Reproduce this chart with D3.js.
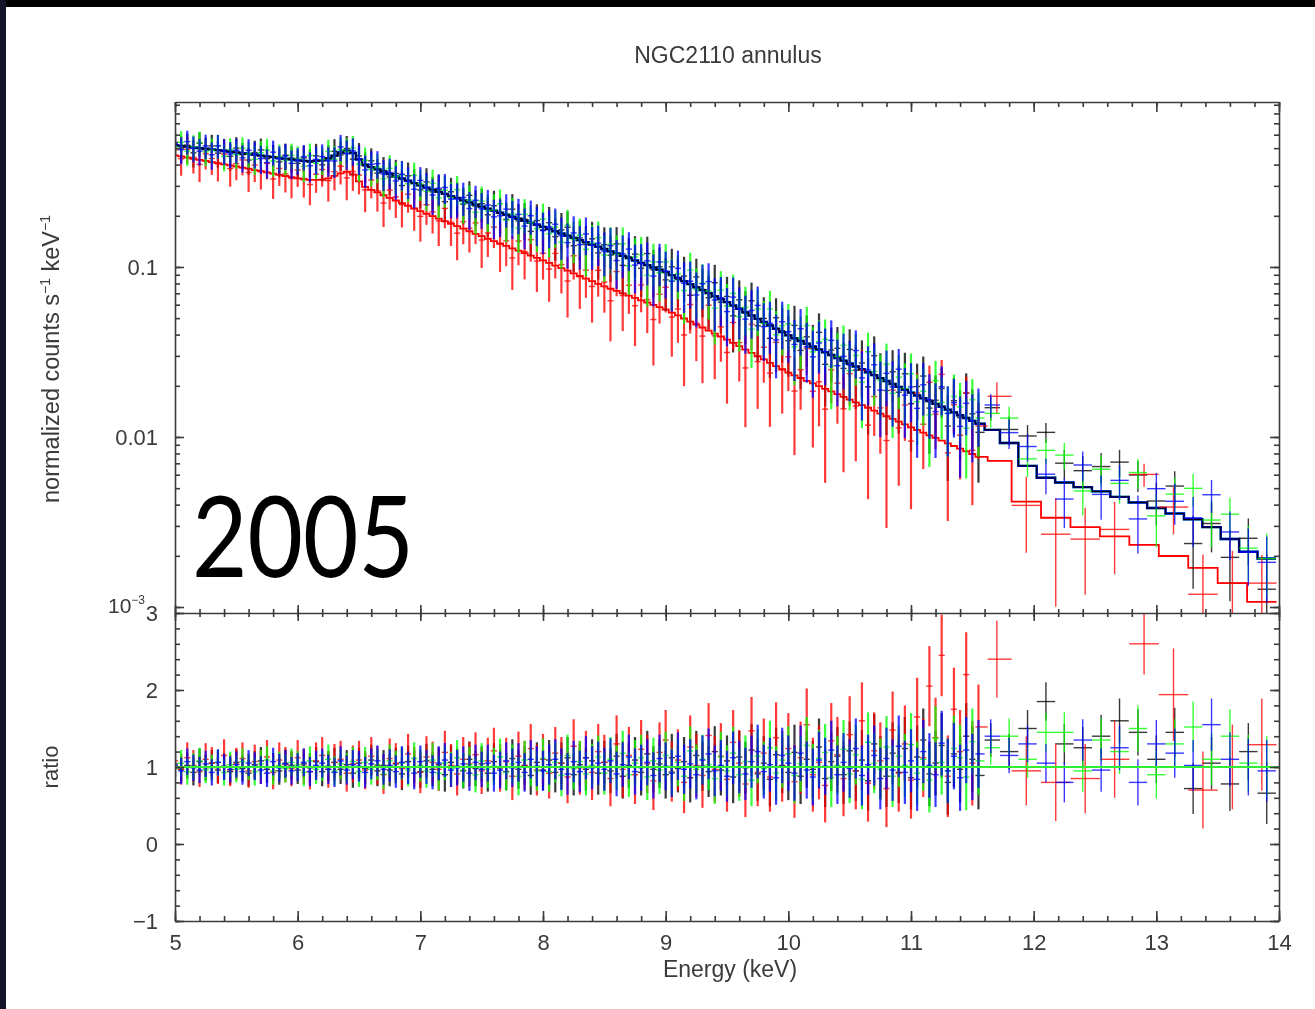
<!DOCTYPE html>
<html>
<head>
<meta charset="utf-8">
<script src="https://cdn.jsdelivr.net/npm/d3@7"></script>
<style>
  body { margin: 0; background: #fff; }
  svg { display: block; }
</style>
</head>
<body>
<script>

// ---- data ----

// bin centres (keV) shared by all four spectra below 11.6 keV
var binE = [
   5.00, 5.05, 5.10, 5.15, 5.20, 5.25, 5.30, 5.35, 5.40, 5.45,
   5.50, 5.55, 5.60, 5.65, 5.70, 5.75, 5.80, 5.85, 5.90, 5.95,
   6.00, 6.05, 6.10, 6.15, 6.20, 6.25, 6.30, 6.35, 6.40, 6.45,
   6.50, 6.55, 6.60, 6.65, 6.70, 6.75, 6.80, 6.85, 6.90, 6.95,
   7.00, 7.05, 7.10, 7.15, 7.20, 7.25, 7.30, 7.35, 7.40, 7.45,
   7.50, 7.55, 7.60, 7.65, 7.70, 7.75, 7.80, 7.85, 7.90, 7.95,
   8.00, 8.05, 8.10, 8.15, 8.20, 8.25, 8.30, 8.35, 8.40, 8.45,
   8.50, 8.55, 8.60, 8.65, 8.70, 8.75, 8.80, 8.85, 8.90, 8.95,
   9.00, 9.05, 9.10, 9.15, 9.20, 9.25, 9.30, 9.35, 9.40, 9.45,
   9.50, 9.55, 9.60, 9.65, 9.70, 9.75, 9.80, 9.85, 9.90, 9.95,
  10.00,10.05,10.10,10.15,10.20,10.25,10.30,10.35,10.40,10.45,
  10.50,10.55,10.60,10.65,10.70,10.75,10.80,10.85,10.90,10.95,
  11.00,11.05,11.10,11.15,11.20,11.25,11.30,11.35,11.40,11.45,
  11.50,11.55
];

// wider bins above 11.6 keV
var tailE_hi  = [11.65, 11.80, 11.95, 12.10, 12.25, 12.40, 12.55, 12.70,
                 12.85, 13.00, 13.15, 13.30, 13.45, 13.60, 13.75, 13.90];
var tailE_red = [11.70, 11.94, 12.18, 12.42, 12.66, 12.90, 13.14, 13.38, 13.62, 13.86];

// model, log10(normalized counts s^-1 keV^-1), black/green/blue spectra
var modelHiLog = [
  -0.284,-0.288,-0.292,-0.297,-0.301,-0.305,-0.309,-0.313,-0.318,-0.322,
  -0.326,-0.331,-0.335,-0.340,-0.345,-0.350,-0.354,-0.359,-0.364,-0.368,
  -0.373,-0.376,-0.378,-0.376,-0.372,-0.362,-0.345,-0.327,-0.316,-0.330,
  -0.368,-0.398,-0.413,-0.426,-0.440,-0.453,-0.467,-0.480,-0.493,-0.507,
  -0.520,-0.533,-0.545,-0.558,-0.570,-0.583,-0.595,-0.608,-0.620,-0.633,
  -0.645,-0.657,-0.669,-0.681,-0.693,-0.705,-0.716,-0.728,-0.740,-0.752,
  -0.764,-0.777,-0.790,-0.803,-0.816,-0.829,-0.842,-0.855,-0.868,-0.881,
  -0.894,-0.908,-0.921,-0.935,-0.948,-0.962,-0.976,-0.989,-1.003,-1.016,
  -1.030,-1.048,-1.065,-1.083,-1.101,-1.119,-1.136,-1.154,-1.172,-1.189,
  -1.207,-1.227,-1.246,-1.266,-1.285,-1.305,-1.324,-1.344,-1.363,-1.383,
  -1.402,-1.419,-1.435,-1.452,-1.468,-1.485,-1.502,-1.518,-1.535,-1.551,
  -1.568,-1.585,-1.602,-1.619,-1.636,-1.654,-1.671,-1.688,-1.705,-1.722,
  -1.739,-1.756,-1.772,-1.789,-1.805,-1.822,-1.839,-1.855,-1.872,-1.888,
  -1.905,-1.922,
  -1.958,-2.035,-2.170,-2.240,-2.268,-2.295,-2.320,-2.352,
  -2.385,-2.418,-2.450,-2.484,-2.530,-2.600,-2.675,-2.715
];

// model, log10, red spectrum
var modelRedLog = [
  -0.344,-0.350,-0.357,-0.364,-0.370,-0.376,-0.383,-0.389,-0.396,-0.403,
  -0.409,-0.416,-0.422,-0.430,-0.437,-0.444,-0.451,-0.458,-0.465,-0.471,
  -0.479,-0.484,-0.488,-0.488,-0.487,-0.479,-0.464,-0.449,-0.440,-0.456,
  -0.497,-0.529,-0.546,-0.561,-0.578,-0.593,-0.609,-0.625,-0.640,-0.656,
  -0.671,-0.687,-0.701,-0.716,-0.731,-0.746,-0.760,-0.775,-0.790,-0.805,
  -0.819,-0.834,-0.848,-0.862,-0.876,-0.891,-0.904,-0.918,-0.933,-0.947,
  -0.961,-0.976,-0.992,-1.007,-1.022,-1.038,-1.053,-1.068,-1.083,-1.099,
  -1.114,-1.128,-1.141,-1.155,-1.168,-1.182,-1.196,-1.209,-1.223,-1.236,
  -1.250,-1.268,-1.285,-1.303,-1.321,-1.339,-1.356,-1.374,-1.392,-1.409,
  -1.427,-1.447,-1.466,-1.486,-1.505,-1.525,-1.544,-1.564,-1.583,-1.603,
  -1.622,-1.638,-1.653,-1.670,-1.685,-1.701,-1.717,-1.732,-1.748,-1.764,
  -1.780,-1.796,-1.812,-1.828,-1.845,-1.862,-1.878,-1.894,-1.910,-1.926,
  -1.943,-1.959,-1.974,-1.990,-2.005,-2.021,-2.038,-2.053,-2.069,-2.084,
  -2.100,-2.117,
  -2.141,-2.380,-2.475,-2.530,-2.585,-2.635,-2.700,-2.770,-2.860,-2.970
];

// data / model ratios
var ratioBlack = [
  1.04,0.97,1.02,0.93,1.07,0.99,1.05,0.96,1.01,0.94,
  1.06,0.98,0.92,1.03,1.08,0.97,1.00,0.95,1.05,1.02,
  0.96,1.04,0.99,1.07,0.94,1.01,1.06,0.97,1.03,0.92,
  1.05,0.98,1.09,0.95,1.02,0.96,1.04,0.91,1.07,1.00,
  0.94,1.08,0.97,1.03,0.90,1.06,1.01,0.95,1.10,0.98,
  1.04,0.92,1.07,0.99,0.94,1.11,0.97,1.02,0.89,1.06,
  0.96,1.09,0.93,1.05,1.12,0.90,1.03,0.97,1.08,0.92,
  1.06,0.95,1.14,0.88,1.02,1.09,0.93,1.17,0.97,1.04,
  0.90,1.12,0.98,1.07,0.86,1.15,1.01,0.94,1.20,0.96,
  1.08,0.87,1.13,0.99,1.22,0.91,1.05,0.84,1.16,1.02,
  0.93,1.19,0.88,1.10,0.97,1.26,0.85,1.07,1.14,0.90,
  1.21,0.95,1.09,0.82,1.30,1.00,0.88,1.18,0.93,1.24,
  0.86,1.13,1.35,0.91,1.05,1.28,0.80,1.17,0.97,1.40,
  1.10,0.89,
  1.35,1.20,1.50,1.85,1.30,1.25,1.40,1.60,1.45,1.10,1.45,0.72,1.05,0.78,1.20,0.66
];
var ratioRed = [
  1.08,0.97,1.12,1.02,0.94,1.10,1.05,0.99,1.15,0.96,
  1.04,1.11,0.95,1.07,1.00,1.13,0.93,1.09,1.03,0.98,
  1.12,1.01,0.94,1.08,1.15,0.97,1.06,1.10,0.92,1.04,
  1.09,0.96,1.14,1.02,0.90,1.11,1.05,0.98,1.17,1.00,
  0.93,1.13,1.06,0.97,1.19,1.02,0.91,1.10,1.04,1.16,
  0.95,1.08,1.21,0.99,1.07,0.88,1.14,1.02,1.24,0.96,
  1.10,0.92,1.18,1.05,0.87,1.27,0.99,1.12,0.93,1.20,
  1.06,0.85,1.30,0.97,1.15,0.90,1.23,1.04,0.82,1.19,
  1.35,0.94,1.09,0.80,1.26,1.02,0.89,1.41,0.97,1.14,
  0.84,1.32,1.05,0.78,1.47,0.93,1.18,0.87,1.38,1.01,
  1.24,0.81,1.12,1.55,0.90,1.06,0.76,1.34,1.16,0.85,
  1.42,0.95,1.60,0.79,1.21,1.08,0.72,1.48,0.92,1.30,
  0.83,1.65,1.12,2.05,1.38,2.45,0.88,1.75,1.20,2.20,
  1.05,1.52,
  2.40,0.95,0.80,0.85,1.10,2.60,1.94,0.70,1.00,1.29
];
var ratioGreen = [
  0.98,1.05,0.94,1.01,1.08,0.96,0.99,1.06,0.93,1.03,
  0.97,1.07,1.00,0.94,1.04,1.09,0.95,1.02,0.98,1.06,
  1.03,0.93,1.08,0.97,1.01,1.10,0.95,1.04,0.99,1.07,
  0.94,1.06,0.97,1.03,0.91,1.08,1.00,1.05,0.96,1.11,
  1.02,0.95,1.09,0.92,1.05,0.98,1.12,0.96,1.03,0.90,
  1.08,0.97,1.01,1.13,0.93,1.04,0.88,1.09,1.00,0.95,
  1.11,0.94,1.06,0.89,1.15,0.98,1.07,0.91,1.02,1.13,
  0.92,1.10,0.99,1.18,0.90,1.05,1.12,0.87,1.08,0.96,
  1.15,0.93,1.06,0.88,1.21,0.97,1.10,1.03,0.85,1.13,
  0.95,1.18,0.90,1.07,0.83,1.14,0.98,1.25,0.92,1.09,
  1.17,0.89,1.04,1.28,0.93,1.11,1.19,0.86,1.02,1.23,
  0.91,1.16,0.84,1.32,1.05,0.97,1.26,0.88,1.14,1.02,
  1.29,0.92,1.10,0.83,1.37,1.06,0.95,1.24,1.12,0.87,
  1.33,1.08,
  1.25,1.40,1.10,1.45,1.45,0.95,1.35,1.20,1.50,0.90,1.30,1.52,1.10,1.40,1.05,1.00
];
var ratioBlue = [
  1.02,0.95,1.07,0.99,0.96,1.04,0.93,1.06,1.00,0.97,
  1.03,0.94,1.05,1.01,0.96,0.92,1.07,0.99,1.04,0.95,
  1.00,1.06,0.94,1.02,1.05,0.97,0.93,1.08,0.96,1.03,
  1.01,0.93,1.04,1.08,0.97,1.02,0.94,1.06,0.99,0.92,
  1.07,1.00,0.93,1.05,1.09,0.96,0.99,1.04,0.92,1.06,
  0.97,1.05,0.92,0.96,1.08,0.99,1.06,0.93,1.10,1.01,
  0.95,1.03,1.10,0.97,0.91,1.07,0.94,1.12,0.99,1.05,
  0.97,1.08,0.91,1.03,1.13,0.94,0.99,1.06,0.89,1.11,
  1.01,0.92,1.14,0.97,1.04,0.90,1.09,1.17,0.95,1.02,
  0.88,1.12,1.00,0.91,1.07,1.20,0.94,1.03,0.86,1.15,
  1.05,0.92,1.18,0.96,0.87,1.09,1.01,1.22,0.90,1.06,
  0.98,1.24,0.89,1.03,1.15,0.85,1.11,0.96,1.27,0.93,
  1.08,0.84,1.20,1.02,0.90,1.31,0.95,1.14,0.86,1.22,
  1.00,1.17,
  1.40,1.15,1.30,1.05,0.80,1.35,0.96,1.25,0.80,1.30,1.18,1.02,1.55,1.10,1.00,0.95
];

// 1-sigma errors on the ratio
var errHi = [
  0.17,0.17,0.17,0.17,0.17,0.17,0.17,0.17,0.17,0.17,
  0.17,0.17,0.17,0.18,0.18,0.18,0.18,0.18,0.18,0.18,
  0.18,0.18,0.19,0.19,0.19,0.19,0.19,0.19,0.19,0.19,
  0.20,0.20,0.20,0.20,0.20,0.21,0.21,0.21,0.21,0.21,
  0.21,0.22,0.22,0.22,0.22,0.22,0.23,0.23,0.23,0.23,
  0.23,0.24,0.24,0.24,0.24,0.25,0.25,0.25,0.25,0.26,
  0.26,0.26,0.26,0.27,0.27,0.27,0.27,0.28,0.28,0.28,
  0.28,0.29,0.29,0.29,0.29,0.30,0.30,0.30,0.30,0.31,
  0.31,0.31,0.31,0.32,0.32,0.32,0.32,0.33,0.33,0.33,
  0.33,0.34,0.34,0.34,0.34,0.35,0.35,0.35,0.35,0.36,
  0.36,0.36,0.36,0.37,0.37,0.37,0.37,0.38,0.38,0.38,
  0.38,0.39,0.39,0.39,0.39,0.40,0.40,0.40,0.40,0.41,
  0.41,0.41,0.41,0.42,0.42,0.42,0.42,0.43,0.43,0.43,
  0.43,0.44,
  0.22,0.23,0.24,0.25,0.26,0.27,0.28,0.29,0.30,0.31,0.32,0.33,0.34,0.35,0.37,0.40
];
var errRed = [
  0.20,0.20,0.20,0.20,0.20,0.21,0.21,0.21,0.21,0.21,
  0.21,0.21,0.22,0.22,0.22,0.22,0.22,0.23,0.23,0.23,
  0.23,0.23,0.23,0.24,0.24,0.24,0.24,0.24,0.24,0.24,
  0.25,0.25,0.25,0.25,0.25,0.26,0.26,0.26,0.26,0.26,
  0.27,0.27,0.27,0.28,0.28,0.28,0.28,0.29,0.29,0.29,
  0.30,0.30,0.30,0.31,0.31,0.31,0.32,0.32,0.32,0.33,
  0.33,0.33,0.34,0.34,0.34,0.35,0.35,0.35,0.36,0.36,
  0.36,0.36,0.37,0.37,0.37,0.38,0.38,0.38,0.38,0.39,
  0.39,0.39,0.40,0.40,0.41,0.41,0.42,0.42,0.43,0.43,
  0.42,0.42,0.43,0.43,0.44,0.44,0.45,0.45,0.46,0.46,
  0.46,0.47,0.47,0.47,0.48,0.48,0.48,0.49,0.49,0.49,
  0.50,0.50,0.50,0.50,0.50,0.50,0.50,0.50,0.50,0.50,
  0.50,0.51,0.51,0.52,0.52,0.53,0.53,0.54,0.54,0.55,
  0.55,0.55,
  0.50,0.45,0.50,0.45,0.50,0.40,0.60,0.50,0.55,0.60
];

// axis ticks
var energyTicks = [5, 6, 7, 8, 9, 10, 11, 12, 13, 14];
var countTicks  = [0.001, 0.01, 0.1];
var ratioTicks  = [-1, 0, 1, 2, 3];

// ---- layout ----

var width  = 1315;
var height = 1009;
var left = 175, right = 1279;
var topY = 102, midY = 613, botY = 921;

var x     = d3.scaleLinear().domain([5, 14]).range([left, right]);
var yTop  = d3.scaleLog().domain([0.000922, 0.934]).range([midY, topY]);
var yRat  = d3.scaleLinear().domain([-1, 3]).range([botY, midY]);

var ink = '#3a3a3a';
var font = '"Liberation Sans", Arial, Helvetica, sans-serif';

var svg = d3.select('body')
            .append('svg')
            .attr('width', width)
            .attr('height', height);

var defs = svg.append('defs');
defs.append('filter').attr('id', 'soft')
    .attr('x', 0).attr('y', 0).attr('width', 1).attr('height', 1)
    .append('feGaussianBlur').attr('stdDeviation', 0.7);
defs.append('clipPath').attr('id', 'clipTop')
    .append('rect').attr('x', left).attr('y', topY)
    .attr('width', right - left).attr('height', midY - topY);
defs.append('clipPath').attr('id', 'clipRat')
    .append('rect').attr('x', left).attr('y', midY)
    .attr('width', right - left).attr('height', botY - midY);

svg.append('rect').attr('width', width).attr('height', height).attr('fill', '#fff');

var chart = svg.append('g').attr('filter', 'url(#soft)');

// ---- build the spectra ----

function makeBins(grid, modelLog, ratio, err) {
  return grid.map(function(e, i) {
    var lo = i > 0 ? (grid[i - 1] + e) / 2 : e - (grid[1] - grid[0]) / 2;
    var hi = i < grid.length - 1 ? (e + grid[i + 1]) / 2 : e + (e - grid[i - 1]) / 2;
    return { e: e, lo: lo, hi: hi, m: Math.pow(10, modelLog[i]), r: ratio[i], err: err[i] };
  });
}

var gridHi  = binE.concat(tailE_hi);
var gridRed = binE.concat(tailE_red);

var series = [
  { color: '#000000', bins: makeBins(gridHi,  modelHiLog,  ratioBlack, errHi)  },
  { color: '#ff0000', bins: makeBins(gridRed, modelRedLog, ratioRed,   errRed) },
  { color: '#00ff00', bins: makeBins(gridHi,  modelHiLog,  ratioGreen, errHi)  },
  { color: '#0000ff', bins: makeBins(gridHi,  modelHiLog,  ratioBlue,  errHi)  }
];

var yMin = yTop.domain()[0];

function modelPath(bins) {
  var d = 'M' + x(bins[0].lo) + ',' + yTop(bins[0].m);
  bins.forEach(function(b, i) {
    d += 'H' + x(b.hi);
    if (i < bins.length - 1) d += 'V' + yTop(bins[i + 1].m);
  });
  return d;
}
// narrow bins get a heavier error bar so the dense part reads as a band
function barWidth(b) { return (b.hi - b.lo) < 0.1 ? 2.2 : 1.4; }

var gTop = chart.append('g').attr('clip-path', 'url(#clipTop)');
var gRat = chart.append('g').attr('clip-path', 'url(#clipRat)');

// model curves first: red, green, blue, then a thin black on top
[[1, 1.8], [2, 2.4], [3, 2.4], [0, 1.2]].forEach(function(p) {
  var s = series[p[0]];
  gTop.append('path')
      .attr('d', modelPath(s.bins))
      .attr('fill', 'none')
      .attr('stroke', s.color)
      .attr('stroke-width', p[1]);
});

function drawCrosses(g, s, yVal, yLo, yHi) {
  var cg = g.append('g').attr('stroke', s.color).attr('stroke-opacity', 0.78);
  cg.selectAll('line.h')
    .data(s.bins)
    .enter()
    .append('line')
    .attr('class', 'h')
    .attr('x1', function(b) { return x(b.lo); })
    .attr('x2', function(b) { return x(b.hi); })
    .attr('y1', yVal)
    .attr('y2', yVal)
    .attr('stroke-width', 1.4);
  cg.selectAll('line.v')
    .data(s.bins)
    .enter()
    .append('line')
    .attr('class', 'v')
    .attr('x1', function(b) { return x(b.e); })
    .attr('x2', function(b) { return x(b.e); })
    .attr('y1', yLo)
    .attr('y2', yHi)
    .attr('stroke-width', barWidth);
}

series.forEach(function(s) {
  drawCrosses(gTop, s,
    function(b) { return yTop(b.m * b.r); },
    function(b) { return yTop(Math.max(b.m * (b.r - b.err), yMin)); },
    function(b) { return yTop(b.m * (b.r + b.err)); });
  drawCrosses(gRat, s,
    function(b) { return yRat(b.r); },
    function(b) { return yRat(b.r - b.err); },
    function(b) { return yRat(b.r + b.err); });
});

// unity line in the ratio panel
gRat.append('path')
    .attr('d', 'M' + x(5) + ',' + yRat(1) + 'H' + x(14))
    .attr('stroke', '#33ee33')
    .attr('stroke-width', 2);

// ---- axes ----

function styleAxis(g) {
  g.selectAll('path, line').attr('stroke', ink).attr('stroke-width', 1.6);
  g.selectAll('text').attr('fill', ink).attr('font-family', font).attr('font-size', 22);
  g.attr('font-family', null).attr('font-size', null);
}
function noDomain(g) { g.select('.domain').remove(); }

var energyMinor = x.ticks(45);
var ratioMinor  = yRat.ticks(20);
var countMinor  = yTop.ticks();

// bottom (labelled)
chart.append('g').attr('transform', 'translate(0,' + botY + ')')
     .call(d3.axisBottom(x).tickValues(energyTicks).tickSize(-10).tickSizeOuter(0).tickPadding(13))
     .call(styleAxis);
chart.append('g').attr('transform', 'translate(0,' + botY + ')')
     .call(d3.axisBottom(x).tickValues(energyMinor).tickSize(-5).tickFormat(''))
     .call(noDomain).call(styleAxis);

// top of upper panel
chart.append('g').attr('transform', 'translate(0,' + topY + ')')
     .call(d3.axisTop(x).tickValues(energyTicks).tickSize(-10).tickSizeOuter(0).tickFormat(''))
     .call(styleAxis);
chart.append('g').attr('transform', 'translate(0,' + topY + ')')
     .call(d3.axisTop(x).tickValues(energyMinor).tickSize(-5).tickFormat(''))
     .call(noDomain).call(styleAxis);

// shared middle line, ticks crossing both ways
chart.append('g').attr('transform', 'translate(0,' + midY + ')')
     .call(d3.axisTop(x).tickValues(energyTicks).tickSize(8).tickSizeOuter(0).tickFormat(''))
     .call(styleAxis);
chart.append('g').attr('transform', 'translate(0,' + midY + ')')
     .call(d3.axisBottom(x).tickValues(energyTicks).tickSize(8).tickFormat(''))
     .call(noDomain).call(styleAxis);
chart.append('g').attr('transform', 'translate(0,' + midY + ')')
     .call(d3.axisTop(x).tickValues(energyMinor).tickSize(4).tickFormat(''))
     .call(noDomain).call(styleAxis);
chart.append('g').attr('transform', 'translate(0,' + midY + ')')
     .call(d3.axisBottom(x).tickValues(energyMinor).tickSize(4).tickFormat(''))
     .call(noDomain).call(styleAxis);

// upper panel, left and right
chart.append('g').attr('transform', 'translate(' + left + ',0)')
     .call(d3.axisLeft(yTop).tickValues(countTicks).tickSize(-9).tickSizeOuter(0).tickPadding(17)
             .tickFormat(function(d) { return d === 0.001 ? '' : String(d); }))
     .call(styleAxis);
chart.append('g').attr('transform', 'translate(' + left + ',0)')
     .call(d3.axisLeft(yTop).tickValues(countMinor).tickSize(-5).tickFormat(''))
     .call(noDomain).call(styleAxis);
chart.append('g').attr('transform', 'translate(' + right + ',0)')
     .call(d3.axisRight(yTop).tickValues(countTicks).tickSize(-9).tickSizeOuter(0).tickFormat(''))
     .call(styleAxis);
chart.append('g').attr('transform', 'translate(' + right + ',0)')
     .call(d3.axisRight(yTop).tickValues(countMinor).tickSize(-5).tickFormat(''))
     .call(noDomain).call(styleAxis);

// 10^-3 label, tucked left of the ratio "3"
var expLabel = chart.append('text')
     .attr('x', left - 30)
     .attr('y', yTop(0.001) + 6)
     .attr('text-anchor', 'end')
     .attr('fill', ink)
     .attr('font-family', font)
     .attr('font-size', 21);
expLabel.append('tspan').text('10');
expLabel.append('tspan').attr('dy', -9).attr('font-size', 12).text('\u22123');

// ratio panel, left and right
chart.append('g').attr('transform', 'translate(' + left + ',0)')
     .call(d3.axisLeft(yRat).tickValues(ratioTicks).tickSize(-9).tickSizeOuter(0).tickPadding(17)
             .tickFormat(d3.format('d')))
     .call(styleAxis);
chart.append('g').attr('transform', 'translate(' + left + ',0)')
     .call(d3.axisLeft(yRat).tickValues(ratioMinor).tickSize(-5).tickFormat(''))
     .call(noDomain).call(styleAxis);
chart.append('g').attr('transform', 'translate(' + right + ',0)')
     .call(d3.axisRight(yRat).tickValues(ratioTicks).tickSize(-9).tickSizeOuter(0).tickFormat(''))
     .call(styleAxis);
chart.append('g').attr('transform', 'translate(' + right + ',0)')
     .call(d3.axisRight(yRat).tickValues(ratioMinor).tickSize(-5).tickFormat(''))
     .call(noDomain).call(styleAxis);

// ---- titles ----

chart.append('text')
     .attr('x', 728).attr('y', 63)
     .attr('text-anchor', 'middle')
     .attr('fill', ink).attr('font-family', font).attr('font-size', 23)
     .text('NGC2110 annulus');

chart.append('text')
     .attr('x', 730).attr('y', 977)
     .attr('text-anchor', 'middle')
     .attr('fill', ink).attr('font-family', font).attr('font-size', 23)
     .text('Energy (keV)');

var yLab = chart.append('text')
     .attr('transform', 'translate(59,359) rotate(-90)')
     .attr('text-anchor', 'middle')
     .attr('fill', ink).attr('font-family', font).attr('font-size', 23.5);
yLab.append('tspan').text('normalized counts s');
yLab.append('tspan').attr('dy', -9).attr('font-size', 14).text('\u22121');
yLab.append('tspan').attr('dy', 9).text(' keV');
yLab.append('tspan').attr('dy', -9).attr('font-size', 14).text('\u22121');

chart.append('text')
     .attr('transform', 'translate(58,767) rotate(-90)')
     .attr('text-anchor', 'middle')
     .attr('fill', ink).attr('font-family', font).attr('font-size', 22)
     .text('ratio');

// ---- overlay: year stamp and dark frame ----

svg.append('text')
   .attr('x', 192).attr('y', 577)
   .attr('font-family', 'Lato, "Open Sans", sans-serif')
   .attr('font-size', 112)
   .attr('textLength', 222)
   .attr('lengthAdjust', 'spacingAndGlyphs')
   .attr('fill', '#000')
   .text('2005');

svg.append('rect').attr('x', 0).attr('y', 0).attr('width', width).attr('height', 7).attr('fill', '#000');
svg.append('rect').attr('x', 0).attr('y', 0).attr('width', 6).attr('height', height).attr('fill', '#14142a');

</script>
</body>
</html>
